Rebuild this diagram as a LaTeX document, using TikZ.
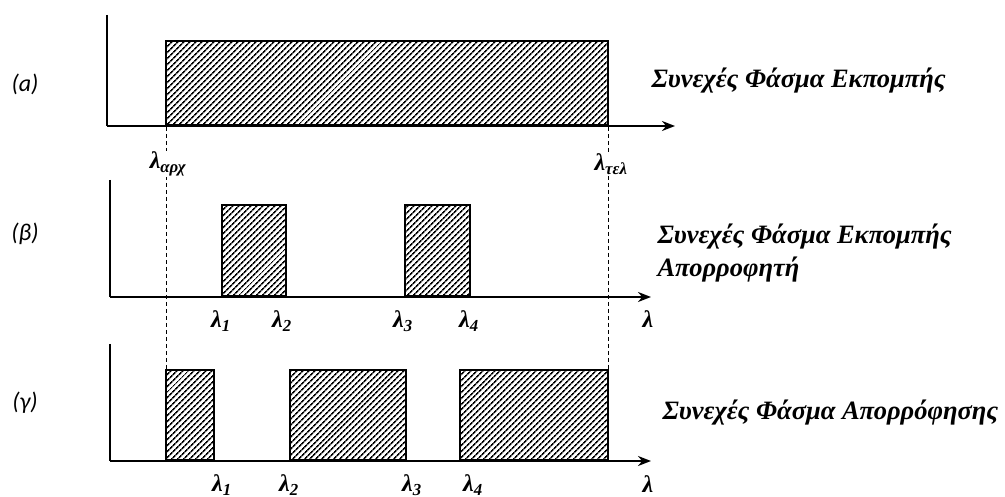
\documentclass[tikz,border=0pt]{standalone}
\usepackage{fontspec}
\setmainfont{Liberation Serif}
\newfontfamily\lblfont{Carlito}
\usetikzlibrary{patterns.meta,arrows.meta}
\begin{document}
\begin{tikzpicture}[x=1pt,y=-1pt,
  axis/.style={line width=2.4pt},
  axarrow/.style={line width=2.4pt,-{Stealth[length=13pt,width=10pt]}},
  band/.style={draw,line width=2pt,pattern={Lines[angle=45,distance=4pt,line width=1.7pt]}},
  guide/.style={line width=0.8pt,dash pattern=on 4pt off 3pt},
  panel/.style={font=\lblfont\itshape\fontsize{24}{28}\selectfont,anchor=center},
  title/.style={font=\bfseries\itshape\fontsize{26.5}{33}\selectfont,anchor=west,align=left},
  lam/.style={font=\bfseries\itshape\fontsize{24}{28}\selectfont,inner sep=1pt},
]
\useasboundingbox (0,0) rectangle (1005,497);
% guides
\draw[guide] (166,127) -- (166,370);
\draw[guide] (608,127) -- (608,370);
% panel a
\path[band] (166,41) rectangle (608,125);
\draw[axis] (107,15) coordinate (ya) -- (107,126) coordinate (oa);
\coordinate (ea) at (675,126);
\draw[axarrow] (oa) -- (ea);
\node[panel] (la) at (25,84) {(a)};
\node[title] (ta) at (648,81) {Συνεχές Φάσμα Εκπομπής};
\node[lam,fill=white] (l0) at (168,164) {λ\textsubscript{αρχ}};
\node[lam,fill=white] (le) at (611,164) {λ\textsubscript{τελ}};
% panel b
\path[band] (222,205) rectangle (286,296);
\path[band] (405,205) rectangle (470,296);
\draw[axis] (110,180) coordinate (yb) -- (110,297) coordinate (ob);
\coordinate (eb) at (651,297);
\draw[axarrow] (ob) -- (eb);
\node[panel] (lb) at (25,234) {(β)};
\node[title] (tb) at (654,253) {Συνεχές Φάσμα Εκπομπής\\Απορροφητή};
\node[lam] (b1) at (221,321) {λ\textsubscript{1}};
\node[lam] (b2) at (282,321) {λ\textsubscript{2}};
\node[lam] (b3) at (403,321) {λ\textsubscript{3}};
\node[lam] (b4) at (469,321) {λ\textsubscript{4}};
\node[lam] (bl) at (648,319) {λ};
% panel c
\path[band] (166,370) rectangle (214,460);
\path[band] (290,370) rectangle (406,460);
\path[band] (460,370) rectangle (608,460);
\draw[axis] (110,344) coordinate (yc) -- (110,461) coordinate (oc);
\coordinate (ec) at (651,461);
\draw[axarrow] (oc) -- (ec);
\node[panel] (lc) at (25,403) {(γ)};
\node[title] (tc) at (659,413) {Συνεχές Φάσμα Απορρόφησης};
\node[lam] (c1) at (222,485) {λ\textsubscript{1}};
\node[lam] (c2) at (289,485) {λ\textsubscript{2}};
\node[lam] (c3) at (412,485) {λ\textsubscript{3}};
\node[lam] (c4) at (473,485) {λ\textsubscript{4}};
\node[lam] (cl) at (648,484) {λ};
\end{tikzpicture}
\end{document}
